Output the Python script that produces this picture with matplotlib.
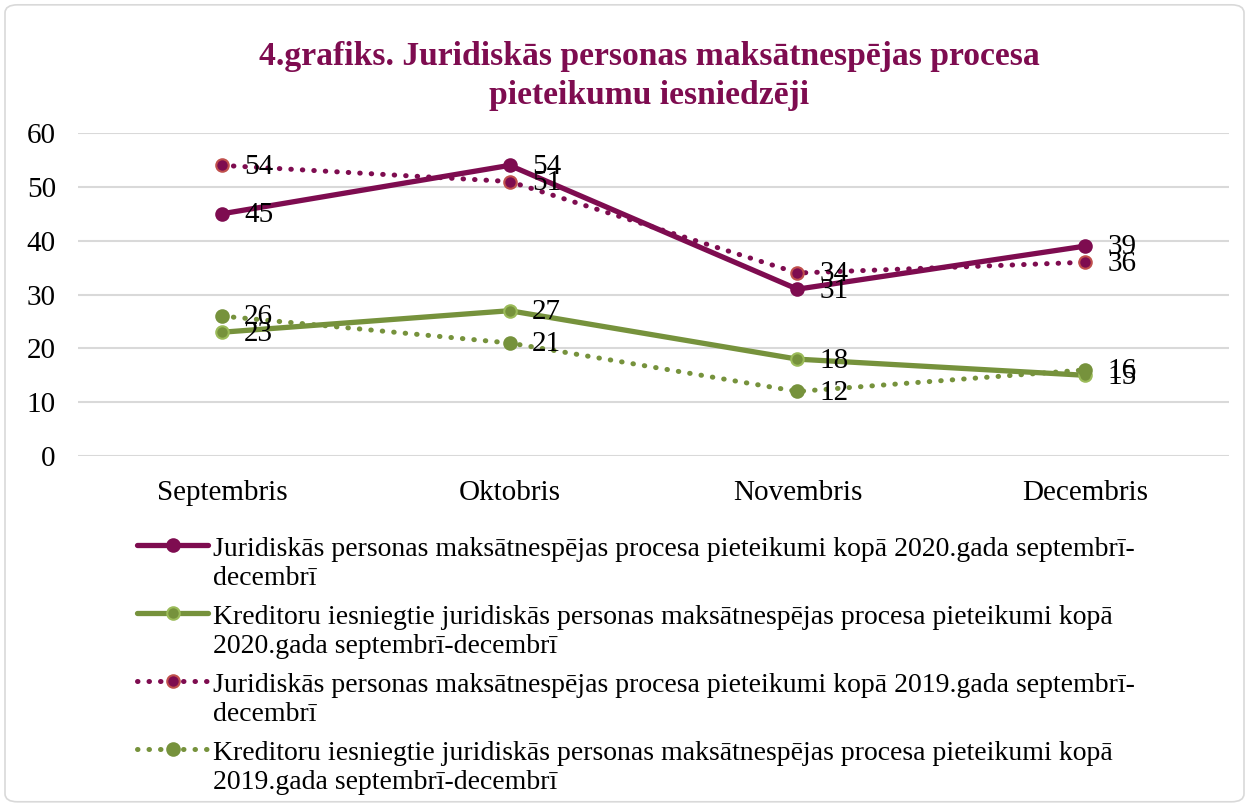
import matplotlib.pyplot as plt
from matplotlib.patches import FancyBboxPatch
from matplotlib.lines import Line2D

plt.rcParams['font.family'] = ['Liberation Serif', 'DejaVu Serif']

months = ['Septembris', 'Oktobris', 'Novembris', 'Decembris']
total_2020 = [45, 54, 31, 39]
cred_2020 = [23, 27, 18, 15]
total_2019 = [54, 51, 34, 36]
cred_2019 = [26, 21, 12, 16]

labels = [
    'Juridiskās personas maksātnespējas procesa pieteikumi kopā 2020.gada septembrī-\ndecembrī',
    'Kreditoru iesniegtie juridiskās personas maksātnespējas procesa pieteikumi kopā\n2020.gada septembrī-decembrī',
    'Juridiskās personas maksātnespējas procesa pieteikumi kopā 2019.gada septembrī-\ndecembrī',
    'Kreditoru iesniegtie juridiskās personas maksātnespējas procesa pieteikumi kopā\n2019.gada septembrī-decembrī',
]

purple = '#7E0C50'
green = '#76923C'
W, H = 1249, 805

fig = plt.figure(figsize=(12.49, 8.05), dpi=100)
fig.patches.append(FancyBboxPatch((0.004, 0.004), 0.992, 0.99, boxstyle='round,pad=0,rounding_size=0.01',
                                  transform=fig.transFigure, fc='none', ec='#D9D9D9', lw=1.2))
ax = fig.add_axes([0.0625, 0.4335, 0.9215, 0.4012])

dotted = (0, (0.1, 2.2))
x = range(len(months))
series = [
    (total_2020, purple, '-', purple, purple),
    (cred_2020, green, '-', green, '#9BBB59'),
    (total_2019, purple, dotted, purple, '#C0504D'),
    (cred_2019, green, dotted, green, green),
]
for (vals, col, ls, mfc, mec), lab in zip(series, labels):
    lw = 3.8 if ls == '-' else 3.6
    ax.plot(x, vals, color=col, linestyle=ls, lw=lw, marker='o', ms=9,
            mfc=mfc, mec=mec, mew=1.5, dash_capstyle='round', solid_capstyle='round', zorder=3)
    for xi, v in zip(x, vals):
        ax.annotate(str(v), (xi, v), xytext=(16, -1), textcoords='offset points',
                    va='center', ha='left', fontsize=21, zorder=4)

ax.set_xlim(-0.5, 3.5)
ax.set_ylim(0, 60)
ax.set_yticks(range(0, 61, 10))
ax.set_xticks(list(x))
ax.set_xticklabels(months)
ax.grid(axis='y', color='#D9D9D9', lw=1.5)
ax.set_axisbelow(True)
for s in ax.spines.values():
    s.set_visible(False)
ax.tick_params(length=0, labelsize=21)
ax.tick_params(axis='y', pad=16)
ax.tick_params(axis='x', pad=17)

fig.text(0.5196, 0.906, '4.grafiks. Juridiskās personas maksātnespējas procesa\npieteikumu iesniedzēji',
         ha='center', va='center', fontsize=24.2, fontweight='bold', color=purple, linespacing=1.32)

# legend drawn by hand so the key sits on the first text line, like the original
for i, ((vals, col, ls, mfc, mec), lab) in enumerate(zip(series, labels)):
    yc = 1 - (545 + 68 * i) / H
    x0, x1 = 137 / W, 208 / W
    lw = 3.8 if ls == '-' else 3.6
    fig.add_artist(Line2D([x0, x1], [yc, yc], color=col, linestyle=ls, lw=lw,
                          dash_capstyle='round', solid_capstyle='round', transform=fig.transFigure))
    fig.add_artist(Line2D([(x0 + x1) / 2], [yc], marker='o', ms=9, mfc=mfc, mec=mec, mew=1.5,
                          transform=fig.transFigure))
    fig.text(213 / W, 1 - (547 - 10 + 68 * i) / H, lab, ha='left', va='top', fontsize=20,
             linespacing=1.2)

fig.savefig('out.png', dpi=100)
